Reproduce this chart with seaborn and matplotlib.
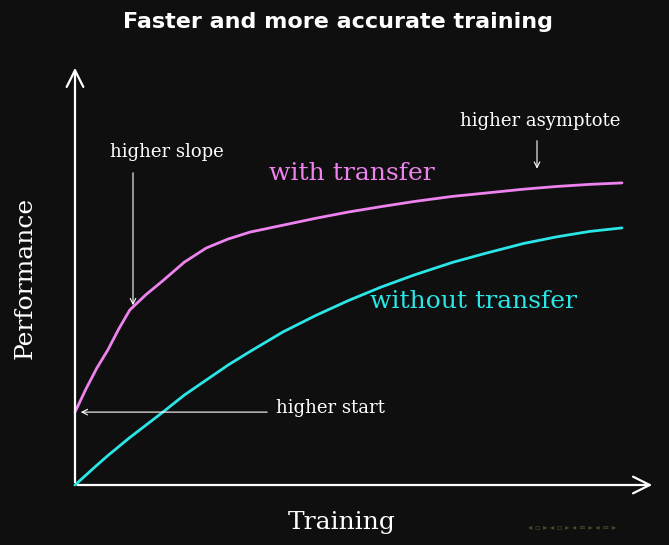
import matplotlib
matplotlib.use("Agg")
import matplotlib.pyplot as plt
import seaborn as sns
import pandas as pd

# training progress (0..1) vs performance (0..1)
training = [0.0, 0.02, 0.04, 0.06, 0.08, 0.10, 0.13, 0.16, 0.20, 0.24, 0.28, 0.32,
            0.38, 0.44, 0.50, 0.56, 0.62, 0.69, 0.75, 0.82, 0.88, 0.94, 1.0]
with_transfer = [0.243, 0.32, 0.39, 0.45, 0.52, 0.583, 0.635, 0.68, 0.743, 0.79, 0.82, 0.843,
                 0.866, 0.889, 0.91, 0.928, 0.945, 0.962, 0.973, 0.986, 0.995, 1.002, 1.007]
without_transfer = [0.0, 0.033, 0.066, 0.098, 0.128, 0.158, 0.20, 0.242, 0.30, 0.35, 0.40, 0.445,
                    0.51, 0.565, 0.615, 0.66, 0.70, 0.742, 0.772, 0.805, 0.827, 0.845, 0.857]

bg = "#0f0f0f"
magenta = "#ee82ee"
cyan = "#2ae6e6"

sns.set_style("dark")
plt.rcParams["font.family"] = ["DejaVu Serif", "Liberation Serif"]

df = pd.DataFrame({"x": training * 2,
                   "y": with_transfer + without_transfer,
                   "s": ["with"] * len(training) + ["without"] * len(training)})

fig = plt.figure(figsize=(6.69, 5.45), dpi=100, facecolor=bg)
ax = fig.add_axes([0, 0, 1, 1])
ax.set_facecolor(bg)
sns.lineplot(data=df, x="x", y="y", hue="s", palette={"with": magenta, "without": cyan},
             linewidth=2, legend=False, ax=ax)
ax.set_xlim(-75 / 547, 594 / 547)
ax.set_ylim(-60 / 300, 485 / 300)
ax.axis("off")

white = dict(arrowstyle="->", color="white", lw=1.6, mutation_scale=30)
ax.annotate("", xy=(580 / 547, 0), xytext=(0, 0), arrowprops=white)
ax.annotate("", xy=(0, 420 / 300), xytext=(0, 0), arrowprops=white)

thin = dict(arrowstyle="->", color="white", lw=0.8, mutation_scale=10)
ax.annotate("", xy=(58 / 547, 0.59), xytext=(58 / 547, 1.05), arrowprops=thin)
ax.text(92 / 547, 1.11, "higher slope", color="white", fontsize=13, ha="center", va="center")
ax.annotate("", xy=(462 / 547, 1.045), xytext=(462 / 547, 1.157), arrowprops=thin)
ax.text(465 / 547, 1.213, "higher asymptote", color="white", fontsize=13, ha="center", va="center")
ax.annotate("", xy=(3 / 547, 0.243), xytext=(195 / 547, 0.243), arrowprops=thin)
ax.text(201 / 547, 0.257, "higher start", color="white", fontsize=13, ha="left", va="center")

ax.text(277 / 547, 1.037, "with transfer", color=magenta, fontsize=18, ha="center", va="center")
ax.text(399 / 547, 0.61, "without transfer", color=cyan, fontsize=18, ha="center", va="center")

fig.text(25 / 669, 1 - 278 / 545, "Performance", color="white", fontsize=18, rotation=90,
         ha="center", va="center")
fig.text(342 / 669, 1 - 522 / 545, "Training", color="white", fontsize=18, ha="center", va="center")
fig.text(338 / 669, 1 - 22 / 545, "Faster and more accurate training", color="white",
         fontsize=16, fontweight="bold", family="DejaVu Sans", ha="center", va="center")
fig.text(572 / 669, 1 - 527 / 545, "◂ ▫ ▸ ◂ ▫ ▸ ◂ ≡ ▸ ◂ ≡ ▸", color="#4a4a2a",
         fontsize=6, family="DejaVu Sans", ha="center", va="center")

fig.savefig("out.png", dpi=100, facecolor=bg)
